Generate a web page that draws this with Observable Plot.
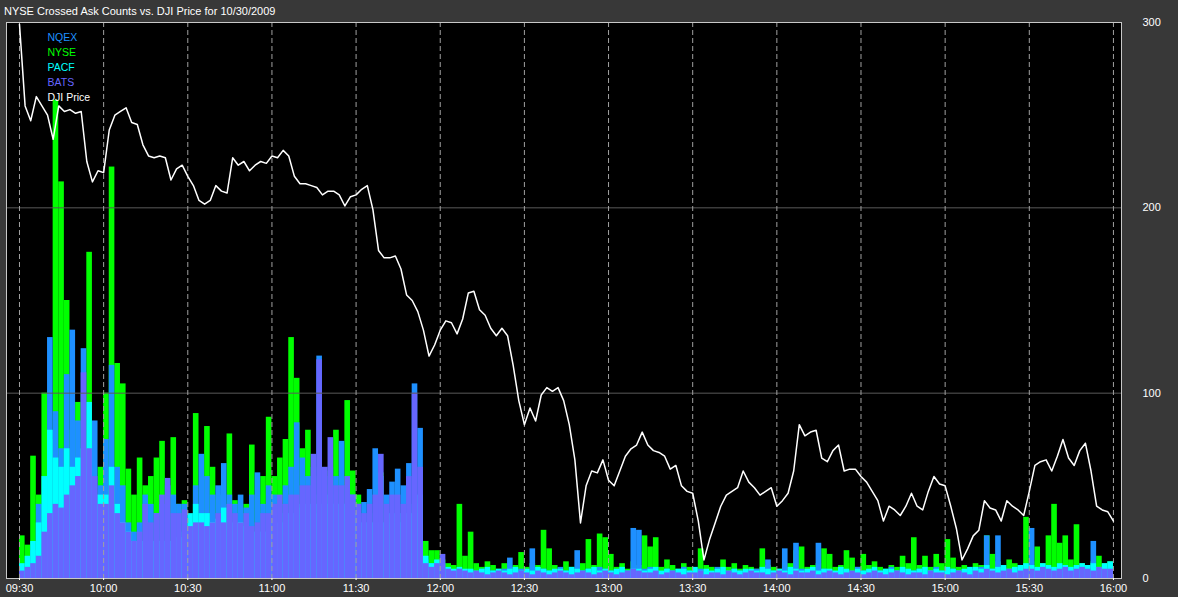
<!DOCTYPE html>
<html>
<head>
<meta charset="utf-8">
<script src="https://cdn.jsdelivr.net/npm/d3@7"></script>
<script src="https://cdn.jsdelivr.net/npm/@observablehq/plot@0.6"></script>
<style>
  html, body { margin: 0; padding: 0; background: #383838; }
  body { width: 1178px; height: 597px; overflow: hidden; }
  #title { height: 20px; padding-left: 4px; color: #fff;
           font: 11px "Liberation Sans", Arial, sans-serif; line-height: 23px; white-space: nowrap; }
  #chart svg { display: block; }
</style>
</head>
<body>
<div id="title">NYSE Crossed Ask Counts vs. DJI Price for 10/30/2009</div>
<div id="chart"></div>
<script>
// ---- data (2-minute bins from 09:30) ----
const binMinutes = 2;
const timeLabels = ["09:30","10:00","10:30","11:00","11:30","12:00","12:30","13:00","13:30","14:00","14:30","15:00","15:30","16:00"];
const yTicks = [0, 100, 200, 300];

const nyse = [
  23,18,66,45,100,75,258,214,150,80,
  95,100,176,40,60,100,222,116,105,59,
  45,65,50,55,65,74,45,76,40,42,
  30,89,40,82,60,45,40,78,42,35,
  40,72,45,55,87,55,65,75,130,108,
  70,80,55,45,58,50,80,55,96,58,
  45,30,35,30,57,35,30,30,30,35,
  35,35,20,15,15,10,8,7,40,12,
  25,8,6,9,7,5,8,6,7,14,
  6,8,7,26,16,7,5,9,6,5,
  8,21,7,24,22,13,6,8,5,9,
  7,23,17,22,6,10,7,5,8,6,
  5,16,7,6,5,10,6,8,5,7,
  6,5,16,7,6,5,8,8,15,17,
  6,7,8,16,13,6,7,15,11,6,
  13,7,9,6,5,7,6,12,8,22,
  7,12,6,13,8,21,11,6,7,5,
  8,7,23,13,9,6,10,8,7,33,
  9,17,8,23,40,19,23,10,29,8,
  7,9,12,8,9
];
const nqex = [
  5,8,15,40,40,130,90,70,110,134,
  85,124,60,85,50,75,115,60,50,30,
  25,30,45,40,35,40,50,45,40,40,
  25,50,67,55,45,50,62,45,40,45,
  38,45,57,40,50,45,40,50,60,84,
  65,55,60,120,55,60,55,74,50,45,
  40,41,48,70,55,45,52,59,50,62,
  105,81,10,8,6,6,5,4,5,4,
  4,3,5,3,4,3,5,11,4,5,
  3,16,4,5,4,3,6,4,3,15,
  4,5,3,6,5,4,3,5,4,27,
  26,5,6,4,3,5,4,3,6,4,
  3,5,4,3,6,4,3,5,4,3,
  4,5,3,10,4,3,16,4,19,5,
  3,4,19,5,4,3,5,4,3,6,
  4,3,5,4,3,6,4,5,3,4,
  5,3,4,6,4,3,5,4,3,5,
  4,6,23,5,23,4,3,5,6,4,
  27,5,4,6,5,4,6,5,4,3,
  5,20,4,6,5
];
const pacf = [
  8,12,20,30,55,80,65,60,70,60,
  65,70,95,45,45,45,60,40,30,25,
  20,20,20,20,20,20,20,20,22,25,
  35,40,35,35,30,32,38,30,30,30,
  28,25,25,25,25,30,30,35,35,38,
  40,40,35,40,40,45,40,40,40,35,
  30,30,30,30,30,30,35,30,35,35,
  40,45,12,8,10,8,6,5,6,5,
  5,4,5,6,4,5,4,5,6,4,
  5,4,6,5,4,5,5,4,6,5,
  4,5,6,4,5,4,5,6,4,5,
  5,4,5,6,4,5,4,5,5,4,
  6,4,5,4,5,6,4,5,4,5,
  5,4,6,5,4,5,4,6,5,4,
  5,6,4,5,5,4,6,5,4,5,
  4,5,6,4,5,5,4,6,5,4,
  5,6,4,5,4,6,5,4,5,6,
  6,5,7,5,6,7,5,6,7,8,
  7,6,8,7,6,8,7,6,7,8,
  7,8,6,8,9
];
const bats = [
  4,6,8,12,25,35,40,38,45,50,
  55,111,70,55,40,40,50,35,30,25,
  20,25,40,30,35,45,54,35,35,37,
  28,30,30,28,30,35,30,40,35,30,
  35,28,30,35,35,40,45,40,45,45,
  50,50,67,118,60,76,50,50,55,45,
  40,35,40,45,67,40,45,45,40,55,
  100,60,8,6,8,13,5,4,5,4,
  3,4,3,2,3,4,3,2,3,4,
  3,2,4,3,2,3,4,3,2,3,
  4,3,2,3,4,3,2,3,4,5,
  4,3,3,4,2,3,4,3,2,3,
  3,4,2,3,3,2,4,3,2,3,
  4,3,3,2,3,4,3,2,4,3,
  3,4,2,3,4,3,2,3,4,3,
  2,3,4,3,2,3,4,3,2,3,
  3,2,4,3,3,2,3,4,3,2,
  4,3,5,4,3,4,5,3,4,5,
  5,4,6,5,4,5,6,4,5,6,
  5,4,6,5,5
];
// DJI price, scaled onto the 0-300 chart axis, sampled every 2 minutes from 09:30 to 16:00
const djiScaled = [
  299,255,247,260,255,250,237,255,252,253,
  251,252,225,214,220,219,242,250,252,254,
  246,245,234,228,227,228,227,215,221,223,
  217,212,204,202,204,212,209,208,227,223,
  225,220,223,225,224,228,227,231,228,217,
  213,213,212,211,207,209,209,207,201,206,
  207,210,212,199,177,173,173,174,167,153,
  150,144,134,120,126,134,139,138,132,140,
  154,155,145,142,135,131,135,131,115,96,
  83,92,85,99,103,101,103,96,83,64,
  30,50,58,57,64,53,50,58,66,70,
  72,79,72,69,68,66,59,61,50,47,
  46,31,10,21,30,39,45,47,49,58,
  52,49,45,47,49,39,42,46,58,83,
  77,79,80,65,63,69,72,58,59,59,
  55,52,47,42,31,39,37,34,39,46,
  39,37,47,55,51,50,39,27,10,16,
  23,26,42,38,37,31,42,39,37,34,
  47,61,63,64,58,66,75,65,61,69,
  73,58,39,37,36,31
];

const series = [
  {name: "NQEX", color: "#1e90ff"},
  {name: "NYSE", color: "#00ff00"},
  {name: "PACF", color: "#00ffff"},
  {name: "BATS", color: "#6666ff"},
  {name: "DJI Price", color: "#ffffff"}
];

// ---- build tables ----
const toMin = s => { const [h, m] = s.split(":").map(Number); return (h - 9) * 60 + m - 30; };
const tickMins = timeLabels.map(toMin);
const bins = nyse.map((v, i) => ({
  t0: i * binMinutes, t1: (i + 1) * binMinutes,
  NYSE: v, NQEX: nqex[i], PACF: pacf[i], BATS: bats[i]
}));
const djiRows = djiScaled.map((v, i) => ({t: i * binMinutes, v}));

const colorOf = Object.fromEntries(series.map(s => [s.name, s.color]));
const barMark = key => Plot.rect(bins, {x1: "t0", x2: "t1", y1: 0, y2: key, fill: colorOf[key]});

const fmt = m => timeLabels[tickMins.indexOf(m)];

const chart = Plot.plot({
  width: 1178, height: 577,
  marginTop: 2, marginBottom: 19, marginLeft: 6, marginRight: 57,
  style: {background: "#383838", color: "#ffffff", fontFamily: "Liberation Sans, Arial, sans-serif", fontSize: "11px", overflow: "visible"},
  x: {domain: [-4.63, 392.87]},
  y: {domain: [0, 300]},
  marks: [
    Plot.frame({fill: "#000000"}),
    barMark("NYSE"),
    barMark("NQEX"),
    barMark("PACF"),
    barMark("BATS"),
    Plot.ruleY([100, 200], {stroke: "#5a5a5a", strokeWidth: 1}),
    Plot.ruleX(tickMins, {stroke: "#a0a0a0", strokeDasharray: "5,3", strokeWidth: 1}),
    Plot.line(djiRows, {x: "t", y: "v", stroke: "#ffffff", strokeWidth: 1.5}),
    Plot.frame({stroke: "#c8c8c8"}),
    Plot.axisY({anchor: "right", ticks: yTicks, tickSize: 0, tickPadding: 21, textAnchor: "start", label: null, fill: "#ffffff"}),
    Plot.axisX({ticks: tickMins, tickFormat: fmt, tickSize: 2, tickPadding: 4, label: null, stroke: "#ffffff", fill: "#ffffff"}),
    ...series.map((s, i) => Plot.text([s.name], {
      frameAnchor: "top-left", dx: 41, dy: 14.7 + 15 * i,
      text: d => d, fill: s.color, textAnchor: "start", lineAnchor: "middle", fontSize: 10.5
    }))
  ]
});
document.getElementById("chart").appendChild(chart);
</script>
</body>
</html>
